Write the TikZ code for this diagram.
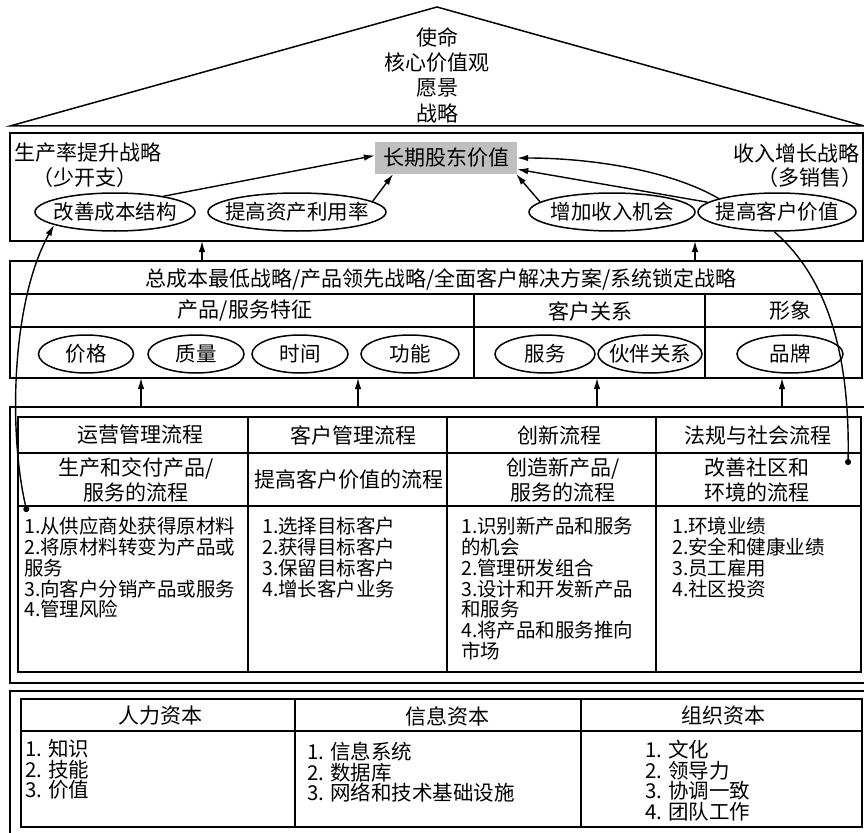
\documentclass[tikz,border=0pt]{standalone}
\usepackage{fontspec}
\setmainfont{Noto Sans CJK SC}
\usetikzlibrary{shapes.geometric,arrows.meta}
\begin{document}
\begin{tikzpicture}[x=1pt,y=-1pt,
  frame/.style={draw,line width=1.7pt,inner sep=0pt,outer sep=0pt},
  rule/.style={line width=1.5pt},
  lbl/.style={inner sep=0pt,font=\fontsize{21}{25}\selectfont,align=center},
  lst/.style={inner sep=0pt,anchor=north west,align=left,font=\fontsize{19.5}{20.8}\selectfont},
  lstb/.style={inner sep=0pt,anchor=north west,align=left,font=\fontsize{20.5}{20.5}\selectfont},
  oval/.style={draw,ellipse,line width=1.5pt,inner xsep=-10pt,inner ysep=-6pt,minimum height=38,font=\fontsize{20.5}{22}\selectfont},
  arr/.style={line width=1.4pt,-{Latex[length=11pt,width=6.5pt]}},
  dotarr/.style={line width=1.4pt,{Circle[length=6pt]}-{Latex[length=11pt,width=6.5pt]}},
  dotend/.style={line width=1.4pt,-{Circle[length=6pt]}}]
\useasboundingbox (0,0) rectangle (864,832);
\clip (0,0) rectangle (864,832);

% ---- roof
\draw[rule,line join=miter] (10,126) -- (437,7) -- (864,126) -- cycle;
\node[lbl,font=\fontsize{21}{25.3}\selectfont] (mission) at (437,75) {使命\\核心价值观\\愿景\\战略};

% ---- financial perspective
\node[frame,minimum width=853,minimum height=108] (strat) at (436.5,187) {};
\node[lbl,anchor=west] (prodlbl) at (14,153) {生产率提升战略};
\node[lbl] (prodsub) at (85,178) {（少开支）};
\node[lbl,anchor=east] (revlbl) at (860,153) {收入增长战略};
\node[lbl] (revsub) at (810,178) {（多销售）};
\node[fill=gray!50,minimum width=142,minimum height=32,inner sep=0pt,font=\fontsize{21}{25}\selectfont] (lsv) at (446,158) {长期股东价值};

\node[oval,minimum width=160] (e1) at (115,212) {改善成本结构};
\node[oval,minimum width=178] (e2) at (297,212) {提高资产利用率};
\node[oval,minimum width=166] (e3) at (612,212) {增加收入机会};
\node[oval,minimum width=158] (e4) at (777,212) {提高客户价值};

\draw[arr] (e1.18) -- (lsv.178);
\draw[arr] (e2.8) -- (lsv.197);
\draw[arr] (e3.172) -- (lsv.-13.5);
\draw[arr] (e4.167) .. controls (670,170) and (590,158) .. (lsv.east);
\draw[arr] (e4.172) -- (lsv.-9);

% ---- customer perspective
\node[frame,minimum width=852,minimum height=117] (val) at (436,319.5) {};
\draw[rule] (10,294) -- (862,294);
\draw[rule] (10,327) -- (862,327);
\draw[rule] (474,294) -- (474,378);
\draw[rule] (705,294) -- (705,378);
\node[lbl] (vp) at (441,279) {总成本最低战略/产品领先战略/全面客户解决方案/系统锁定战略};
\node[lbl] (vpa) at (245,311) {产品/服务特征};
\node[lbl] (vpb) at (590,311) {客户关系};
\node[lbl] (vpc) at (790,311) {形象};
\node[oval,minimum width=95] (v1) at (86,354) {价格};
\node[oval,minimum width=96] (v2) at (196,354) {质量};
\node[oval,minimum width=96] (v3) at (300,354) {时间};
\node[oval,minimum width=98] (v4) at (410,354) {功能};
\node[oval,minimum width=100] (v5) at (545,354) {服务};
\node[oval,minimum width=104] (v6) at (650,354) {伙伴关系};
\node[oval,minimum width=106] (v7) at (790,354) {品牌};

% ---- internal process perspective
\node[frame,minimum width=862,minimum height=276] (proc) at (441,545) {};
\node[frame,minimum width=843,minimum height=255] (ptab) at (439.5,544.5) {};
\draw[rule] (18,453) -- (861,453);
\draw[rule] (18,506) -- (861,506);
\draw[rule] (248,417) -- (248,672);
\draw[rule] (447,417) -- (447,672);
\draw[rule] (656,417) -- (656,672);
\node[lbl] (h1) at (140,435) {运营管理流程};
\node[lbl] (h2) at (353,435) {客户管理流程};
\node[lbl] (h3) at (559,435) {创新流程};
\node[lbl] (h4) at (758,435) {法规与社会流程};
\node[lbl] (r1) at (136,480) {生产和交付产品/\\服务的流程};
\node[lbl] (r2) at (349,480) {提高客户价值的流程};
\node[lbl] (r3) at (563,480) {创造新产品/\\服务的流程};
\node[lbl] (r4) at (757,480) {改善社区和\\环境的流程};
\node[lst] (l1) at (24,517) {1.从供应商处获得原材料\\2.将原材料转变为产品或\\服务\\3.向客户分销产品或服务\\4.管理风险};
\node[lst] (l2) at (262,517) {1.选择目标客户\\2.获得目标客户\\3.保留目标客户\\4.增长客户业务};
\node[lst] (l3) at (461,517) {1.识别新产品和服务\\的机会\\2.管理研发组合\\3.设计和开发新产品\\和服务\\4.将产品和服务推向\\市场};
\node[lst] (l4) at (672,517) {1.环境业绩\\2.安全和健康业绩\\3.员工雇用\\4.社区投资};

% ---- learning and growth perspective
\node[frame,minimum width=862,minimum height=145] (learn) at (441,763.5) {};
\node[frame,minimum width=841,minimum height=128] (ltab) at (441.5,763) {};
\draw[rule] (21,731) -- (862,731);
\draw[rule] (295,699) -- (295,827);
\draw[rule] (581,699) -- (581,827);
\node[lbl] (k1) at (160,716) {人力资本};
\node[lbl] (k2) at (447,716) {信息资本};
\node[lbl] (k3) at (723,716) {组织资本};
\node[lstb] (m1) at (25,739.5) {1. 知识\\2. 技能\\3. 价值};
\node[lstb] (m2) at (307,742) {1. 信息系统\\2. 数据库\\3. 网络和技术基础设施};
\node[lstb] (m3) at (645,740) {1. 文化\\2. 领导力\\3. 协调一致\\4. 团队工作};

% ---- arrows between layers
\coordinate (c1) at (202,0);
\coordinate (c2) at (695,0);
\coordinate (c3) at (141,0);
\coordinate (c4) at (358,0);
\coordinate (c5) at (597,0);
\coordinate (c6) at (782,0);
\draw[arr] (val.north -| c1) -- (strat.south -| c1);
\draw[arr] (val.north -| c2) -- (strat.south -| c2);
\draw[arr] (proc.north -| c3) -- (val.south -| c3);
\draw[arr] (proc.north -| c4) -- (val.south -| c4);
\draw[arr] (proc.north -| c5) -- (val.south -| c5);
\draw[arr] (proc.north -| c6) -- (val.south -| c6);

% ---- long connectors
\coordinate (ldot) at (27,512);
\coordinate (rdot) at (848,465);
\draw[dotarr] (ldot) .. controls (8,430) and (12,300) .. (e1.192);
\draw[dotend] (e4.-98) .. controls (830,280) and (850,360) .. (rdot);
\end{tikzpicture}
\end{document}
